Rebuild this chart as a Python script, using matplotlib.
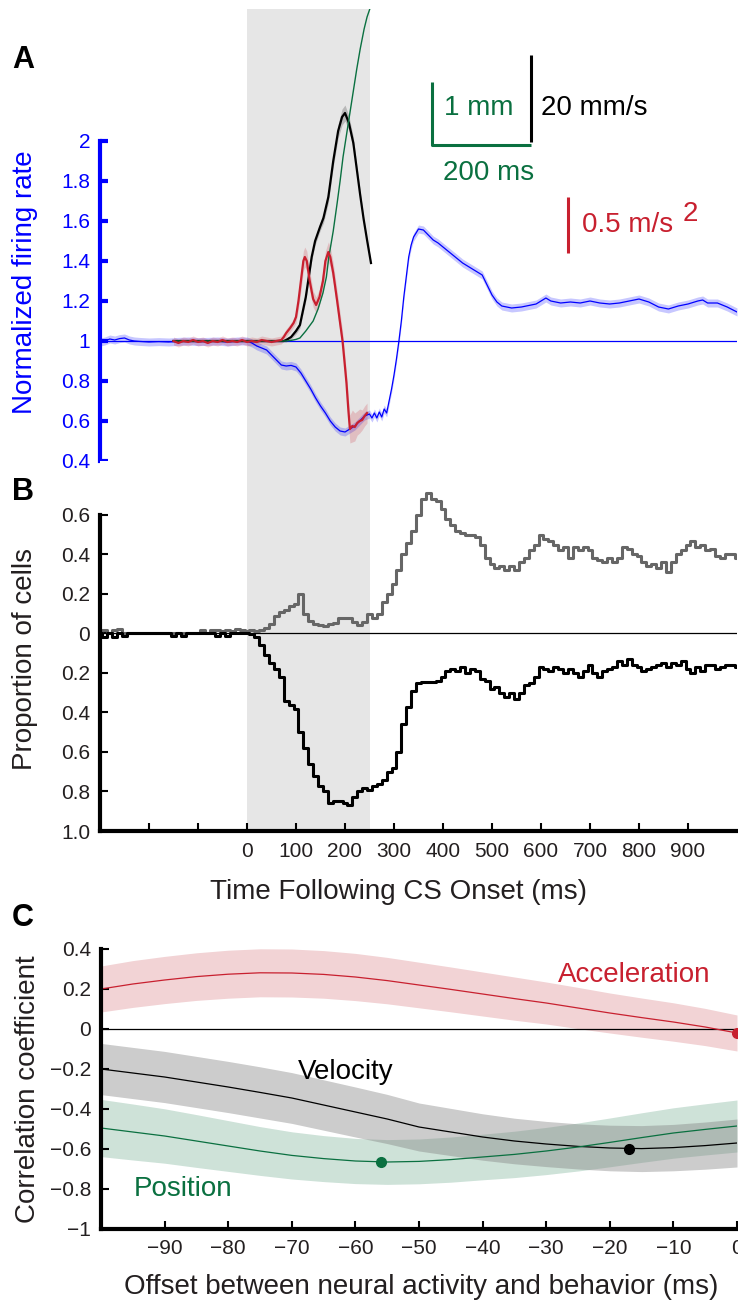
import numpy as np
import matplotlib.pyplot as plt

plt.rcParams['font.family'] = ['Liberation Sans', 'DejaVu Sans']

# ---- panel A: normalized firing rate and eye kinematics ----
t_rate = [-300, -290, -280, -270, -260, -250, -240, -230, -220, -200, -180, -160, -140, -120,
          -100, -80, -60, -40, -20, 0, 10, 20, 30, 40, 50, 60, 70, 80, 90, 100, 110, 120, 130,
          140, 150, 160, 170, 180, 190, 200, 210, 220, 230, 240, 250, 255, 260, 265, 270, 275,
          280, 285, 290, 295, 300, 305, 310, 315, 320, 325, 330, 335, 340, 350, 360, 370, 380,
          390, 400, 420, 440, 460, 480, 490, 500, 510, 520, 540, 560, 580, 590, 600, 610, 620,
          640, 660, 680, 700, 720, 740, 760, 780, 800, 820, 840, 860, 880, 900, 920, 930, 940,
          960, 980, 1000]
rate = [0.995, 1.0, 1.01, 1.005, 1.012, 1.015, 1.005, 1.0, 0.998, 0.995, 0.997, 0.995, 0.998, 1.0,
        0.997, 0.998, 1.0, 0.995, 1.0, 1.0, 0.99, 0.975, 0.965, 0.955, 0.93, 0.905, 0.88, 0.875,
        0.878, 0.87, 0.84, 0.8, 0.76, 0.715, 0.675, 0.64, 0.6, 0.57, 0.55, 0.545, 0.56, 0.575,
        0.6, 0.625, 0.635, 0.615, 0.64, 0.615, 0.645, 0.62, 0.66, 0.64, 0.7, 0.76, 0.83, 0.91,
        1.0, 1.1, 1.22, 1.32, 1.42, 1.48, 1.52, 1.56, 1.555, 1.53, 1.505, 1.49, 1.47, 1.43, 1.39,
        1.36, 1.33, 1.28, 1.23, 1.195, 1.175, 1.165, 1.17, 1.18, 1.185, 1.2, 1.215, 1.2, 1.19,
        1.195, 1.19, 1.2, 1.19, 1.185, 1.19, 1.2, 1.21, 1.195, 1.17, 1.16, 1.175, 1.185, 1.2,
        1.205, 1.19, 1.19, 1.17, 1.145]
rate_err = 0.02

t_acc = [-150, -140, -130, -120, -110, -100, -90, -80, -70, -60, -50, -40, -30, -20, -10, 0, 10,
         20, 30, 40, 50, 60, 70, 75, 80, 88, 95, 100, 105, 110, 115, 118, 122, 128, 135, 141,
         148, 155, 160, 166, 170, 176, 184, 190, 195, 200, 203, 207, 210, 215, 220, 225, 230,
         235, 240, 245]
acc = [1.0, 0.99, 1.0, 0.995, 1.005, 0.995, 1.0, 0.99, 1.0, 0.995, 1.005, 0.995, 1.0, 0.995,
       1.005, 0.995, 1.0, 0.995, 1.005, 1.0, 0.995, 1.0, 1.005, 1.02, 1.04, 1.065, 1.09, 1.12,
       1.2, 1.3, 1.4, 1.42, 1.4, 1.3, 1.21, 1.18, 1.22, 1.3, 1.4, 1.445, 1.42, 1.34, 1.2, 1.09,
       1.0, 0.87, 0.79, 0.65, 0.56, 0.575, 0.57, 0.59, 0.6, 0.605, 0.625, 0.64]
acc_err = [0.02] * 27 + [0.03, 0.04, 0.05, 0.05, 0.05, 0.05, 0.05, 0.04, 0.04, 0.04, 0.05,
                          0.05, 0.05, 0.05, 0.05, 0.05, 0.05, 0.05, 0.05, 0.05, 0.06, 0.07,
                          0.08, 0.07, 0.06, 0.06, 0.05, 0.05, 0.05]

t_vel = [-150, -100, -50, 0, 50, 75, 80, 90, 100, 108, 120, 132, 139, 149, 156, 166, 176, 186,
         194, 200, 208, 217, 224, 231, 238, 245, 253]
vel = [1.0, 1.0, 1.0, 1.0, 1.0, 1.0, 1.005, 1.02, 1.05, 1.08, 1.22, 1.42, 1.5, 1.57, 1.615, 1.72,
       1.9, 2.05, 2.12, 2.14, 2.09, 1.99, 1.86, 1.73, 1.61, 1.505, 1.39]
vel_err = [0.005] * 6 + [0.01, 0.01, 0.015, 0.015, 0.02, 0.02, 0.02, 0.02, 0.025, 0.03, 0.03,
                         0.035, 0.04, 0.04, 0.035, 0.03, 0.02, 0.02, 0.01, 0.01, 0.01]

t_pos = [-150, -100, -50, 0, 50, 80, 90, 100, 108, 120, 135, 145, 155, 162, 167, 176, 184, 190,
         196, 203, 210, 217, 224, 231, 239, 245, 252, 258]
pos = [1.0, 1.0, 1.0, 1.0, 1.0, 1.0, 1.003, 1.008, 1.015, 1.05, 1.1, 1.16, 1.24, 1.32, 1.42,
       1.55, 1.69, 1.8, 1.92, 2.03, 2.14, 2.25, 2.36, 2.46, 2.56, 2.62, 2.67, 2.75]

# ---- panel B: proportion of cells increasing / decreasing ----
t_cells = list(range(-300, 1001, 10))
prop_up = [0.01, 0.02, 0.0, 0.02, 0.025, 0.0, 0.0, 0.0, 0.0, 0.0, 0.0, 0.0, 0.0, 0.0, 0.0, 0.0,
           0.0, 0.0, 0.0, 0.0, 0.0, 0.015, 0.0, 0.015, 0.02, 0.01, 0.015, 0.01, 0.025, 0.015,
           0.01, 0.015, 0.01, 0.02, 0.03, 0.05, 0.09, 0.11, 0.12, 0.14, 0.15, 0.2, 0.1, 0.065,
           0.05, 0.045, 0.04, 0.05, 0.055, 0.08, 0.08, 0.08, 0.06, 0.045, 0.06, 0.1, 0.08, 0.1,
           0.16, 0.2, 0.25, 0.32, 0.4, 0.46, 0.52, 0.6, 0.68, 0.71, 0.68, 0.67, 0.63, 0.58,
           0.55, 0.52, 0.51, 0.5, 0.5, 0.49, 0.45, 0.38, 0.35, 0.33, 0.34, 0.32, 0.34, 0.32,
           0.36, 0.38, 0.42, 0.45, 0.5, 0.48, 0.47, 0.45, 0.42, 0.44, 0.38, 0.44, 0.42, 0.44,
           0.42, 0.38, 0.37, 0.36, 0.38, 0.36, 0.38, 0.44, 0.43, 0.4, 0.39, 0.36, 0.34, 0.35,
           0.33, 0.36, 0.31, 0.36, 0.4, 0.42, 0.45, 0.47, 0.44, 0.45, 0.42, 0.43, 0.39, 0.38,
           0.4, 0.4, 0.38]
prop_down = [0.0, 0.02, 0.0, 0.02, 0.0, 0.015, 0.0, 0.0, 0.0, 0.0, 0.0, 0.0, 0.0, 0.0, 0.0,
             0.015, 0.0, 0.015, 0.0, 0.0, 0.0, 0.0, 0.0, 0.0, 0.015, 0.0, 0.015, 0.0, 0.0, 0.0,
             0.0, 0.005, 0.02, 0.06, 0.11, 0.15, 0.18, 0.22, 0.34, 0.36, 0.38, 0.5, 0.58, 0.66,
             0.72, 0.77, 0.8, 0.86, 0.85, 0.85, 0.86, 0.87, 0.83, 0.8, 0.78, 0.79, 0.77, 0.76,
             0.74, 0.7, 0.68, 0.6, 0.46, 0.37, 0.29, 0.25, 0.245, 0.245, 0.245, 0.24, 0.22, 0.19,
             0.18, 0.19, 0.17, 0.2, 0.18, 0.19, 0.23, 0.24, 0.28, 0.27, 0.3, 0.32, 0.3, 0.33,
             0.3, 0.26, 0.25, 0.22, 0.17, 0.18, 0.19, 0.17, 0.18, 0.2, 0.18, 0.2, 0.22, 0.19,
             0.16, 0.2, 0.22, 0.19, 0.18, 0.17, 0.14, 0.16, 0.13, 0.16, 0.17, 0.19, 0.18, 0.17,
             0.16, 0.15, 0.17, 0.15, 0.16, 0.14, 0.18, 0.2, 0.17, 0.19, 0.16, 0.16, 0.18, 0.17,
             0.16, 0.16, 0.17]

time_ticks = [-200, -100, 0, 100, 200, 300, 400, 500, 600, 700, 800, 900]
time_labels = ['', '', '0', '100', '200', '300', '400', '500', '600', '700', '800', '900']

# ---- panel C: correlation vs offset ----
offset = [-100, -95, -90, -85, -80, -75, -70, -65, -60, -55, -50, -45, -40, -35, -30, -25, -20,
          -15, -10, -5, 0]
r_acc = [0.2, 0.225, 0.245, 0.262, 0.274, 0.281, 0.28, 0.273, 0.26, 0.242, 0.22, 0.198, 0.175,
         0.152, 0.13, 0.105, 0.08, 0.057, 0.035, 0.01, -0.02]
r_acc_err = [0.115, 0.117, 0.118, 0.119, 0.12, 0.12, 0.12, 0.119, 0.118, 0.116, 0.114, 0.112,
             0.11, 0.108, 0.105, 0.103, 0.1, 0.098, 0.096, 0.093, 0.09]
r_vel = [-0.2, -0.22, -0.24, -0.265, -0.29, -0.317, -0.345, -0.38, -0.415, -0.45, -0.49, -0.515,
         -0.54, -0.56, -0.575, -0.587, -0.595, -0.598, -0.593, -0.583, -0.57]
r_vel_err = [0.128, 0.128, 0.128, 0.128, 0.128, 0.128, 0.127, 0.126, 0.125, 0.123, 0.12, 0.118,
             0.116, 0.114, 0.113, 0.113, 0.114, 0.115, 0.116, 0.118, 0.12]
r_pos = [-0.495, -0.515, -0.535, -0.56, -0.585, -0.61, -0.632, -0.648, -0.66, -0.665, -0.662,
         -0.653, -0.64, -0.627, -0.61, -0.59, -0.567, -0.543, -0.52, -0.502, -0.485]
r_pos_err = [0.143, 0.14, 0.136, 0.132, 0.127, 0.122, 0.118, 0.115, 0.113, 0.112, 0.112, 0.113,
             0.114, 0.116, 0.118, 0.12, 0.122, 0.124, 0.126, 0.128, 0.13]
best = {'pos': (-56, -0.665), 'vel': (-17, -0.6), 'acc': (0, -0.02)}

BLUE = '#0000ff'
RED = '#c8202f'
GREEN = '#0a7040'
GREY = '#e6e6e6'
TXT = '#231f20'

W, H = 738, 1300
fig = plt.figure(figsize=(W / 100, H / 100), dpi=100)


def frac(x0, y0, x1, y1):
    return [x0 / W, 1 - y1 / H, (x1 - x0) / W, (y1 - y0) / H]


# ---------------- A ----------------
axA = fig.add_axes(frac(100, 9, 737, 461))
axA.set_xlim(-300, 1000)
axA.set_ylim(0.4, 2.66)
axA.axvspan(0, 250, color=GREY, lw=0, zorder=0)
axA.axhline(1, color=BLUE, lw=0.9, zorder=1)
r = np.array(rate)
axA.fill_between(t_rate, r - rate_err, r + rate_err, color=BLUE, alpha=0.22, lw=0, zorder=2)
axA.plot(t_rate, rate, color=BLUE, lw=0.9, zorder=3)
v = np.array(vel)
axA.fill_between(t_vel, v - np.array(vel_err), v + np.array(vel_err), color='k', alpha=0.2, lw=0, zorder=2)
axA.plot(t_vel, vel, color='k', lw=1.6, zorder=4)
a = np.array(acc)
axA.fill_between(t_acc, a - np.array(acc_err), a + np.array(acc_err), color=RED, alpha=0.2, lw=0, zorder=2)
axA.plot(t_acc, acc, color=RED, lw=1.6, zorder=5)
axA.plot(t_pos, pos, color=GREEN, lw=1.0, zorder=4)

for s in ['top', 'right', 'bottom']:
    axA.spines[s].set_visible(False)
axA.spines['left'].set_color(BLUE)
axA.spines['left'].set_linewidth(3)
axA.spines['left'].set_bounds(0.4, 2)
axA.set_xticks([])
axA.set_yticks([0.4, 0.6, 0.8, 1, 1.2, 1.4, 1.6, 1.8, 2])
axA.set_yticklabels(['0.4', '0.6', '0.8', '1', '1.2', '1.4', '1.6', '1.8', '2'])
axA.tick_params(axis='y', direction='in', length=6, width=3, color=BLUE,
                labelcolor=BLUE, labelsize=15, pad=7)

# scale bars
axA.plot([378, 378, 580], [2.295, 1.98, 1.98], color=GREEN, lw=2.2, solid_capstyle='butt')
axA.plot([580, 580], [1.995, 2.43], color='k', lw=2.2, solid_capstyle='butt')
axA.plot([655, 655], [1.44, 1.72], color=RED, lw=2.2, solid_capstyle='butt')
axA.text(402, 2.165, '1 mm', color=GREEN, fontsize=20, va='center', ha='left')
axA.text(600, 2.165, '20 mm/s', color='k', fontsize=20, va='center', ha='left')
axA.text(400, 1.84, '200 ms', color=GREEN, fontsize=20, va='center', ha='left')
axA.text(684, 1.58, '0.5 m/s', color=RED, fontsize=20, va='center', ha='left')
axA.text(890, 1.635, '2', color=RED, fontsize=20, va='center', ha='left')

# ---------------- B ----------------
axB = fig.add_axes(frac(100, 461, 737, 831))
axB.set_xlim(-300, 1000)
axB.set_ylim(-1.0, 0.873)
axB.axvspan(0, 250, color=GREY, lw=0, zorder=0)
axB.axhline(0, color='k', lw=0.9, zorder=1)
axB.plot(t_cells, -np.array(prop_down), color='k', lw=2.2, drawstyle='steps-mid', zorder=3)
axB.plot(t_cells, prop_up, color='#666666', lw=2.2, drawstyle='steps-mid', zorder=2)
for s in ['top', 'right']:
    axB.spines[s].set_visible(False)
axB.spines['left'].set_linewidth(3)
axB.spines['left'].set_bounds(-1.0, 0.6)
axB.spines['bottom'].set_linewidth(3)
axB.set_yticks([-1, -0.8, -0.6, -0.4, -0.2, 0, 0.2, 0.4, 0.6])
axB.set_yticklabels(['1.0', '0.8', '0.6', '0.4', '0.2', '0', '0.2', '0.4', '0.6'])
axB.set_xticks(time_ticks)
axB.set_xticklabels(time_labels)
axB.tick_params(direction='in', length=6, width=1.5, labelsize=15, labelcolor=TXT)
axB.tick_params(axis='y', pad=7)
axB.tick_params(axis='x', pad=8)

# ---------------- C ----------------
axC = fig.add_axes(frac(101, 949, 737, 1229))
axC.set_xlim(-100, 0)
axC.set_ylim(-1, 0.4)
axC.axhline(0, color='k', lw=0.9, zorder=1)
ra = np.array(r_acc)
rv = np.array(r_vel)
rp = np.array(r_pos)
axC.fill_between(offset, ra - r_acc_err, ra + r_acc_err, color='#f2d3d5', lw=0, zorder=0)
axC.fill_between(offset, rp - r_pos_err, rp + r_pos_err, color=GREEN, alpha=0.2, lw=0, zorder=0)
axC.fill_between(offset, rv - r_vel_err, rv + r_vel_err, color='#808080', alpha=0.4, lw=0, zorder=0)
axC.plot(offset, r_acc, color=RED, lw=0.9, zorder=2)
axC.plot(offset, r_vel, color='k', lw=0.9, zorder=2)
axC.plot(offset, r_pos, color=GREEN, lw=0.9, zorder=2)
axC.plot(*best['pos'], 'o', color=GREEN, ms=7, zorder=3)
axC.plot(*best['vel'], 'o', color='k', ms=7, zorder=3)
axC.plot(*best['acc'], 'o', color=RED, ms=7, zorder=3)
axC.text(-28.1, 0.27, 'Acceleration', color=RED, fontsize=20, va='center', ha='left')
axC.text(-69, -0.215, 'Velocity', color='k', fontsize=20, va='center', ha='left')
axC.text(-94.8, -0.8, 'Position', color=GREEN, fontsize=20, va='center', ha='left')
for s in ['top', 'right']:
    axC.spines[s].set_visible(False)
axC.spines['left'].set_linewidth(3)
axC.spines['bottom'].set_linewidth(3)
axC.set_yticks([-1, -0.8, -0.6, -0.4, -0.2, 0, 0.2, 0.4])
axC.set_yticklabels(['\u22121', '\u22120.8', '\u22120.6', '\u22120.4', '\u22120.2', '0', '0.2', '0.4'])
axC.set_xticks([-90, -80, -70, -60, -50, -40, -30, -20, -10, 0])
axC.set_xticklabels(['\u221290', '\u221280', '\u221270', '\u221260', '\u221250', '\u221240',
                     '\u221230', '\u221220', '\u221210', '0'])
axC.tick_params(direction='in', length=6, width=1.5, labelsize=15, labelcolor=TXT)
axC.tick_params(axis='y', pad=7)
axC.tick_params(axis='x', pad=7)

# labels
def ftext(x, y, s, **kw):
    fig.text(x / W, 1 - y / H, s, **kw)


ftext(25, 282, 'Normalized firing rate', color=BLUE, fontsize=20, rotation=90, ha='center', va='center')
ftext(25, 659, 'Proportion of cells', color=TXT, fontsize=20, rotation=90, ha='center', va='center')
ftext(28, 1089, 'Correlation coefficient', color=TXT, fontsize=20, rotation=90, ha='center', va='center')
ftext(398, 892, 'Time Following CS Onset (ms)', color=TXT, fontsize=20, ha='center', va='center')
ftext(421, 1287, 'Offset between neural activity and behavior (ms)', color=TXT, fontsize=20,
      ha='center', va='center')
ftext(23, 60, 'A', fontsize=22, fontweight='bold', ha='center', va='center')
ftext(23, 492, 'B', fontsize=22, fontweight='bold', ha='center', va='center')
ftext(23, 918, 'C', fontsize=22, fontweight='bold', ha='center', va='center')

fig.savefig('out.png', dpi=100)
